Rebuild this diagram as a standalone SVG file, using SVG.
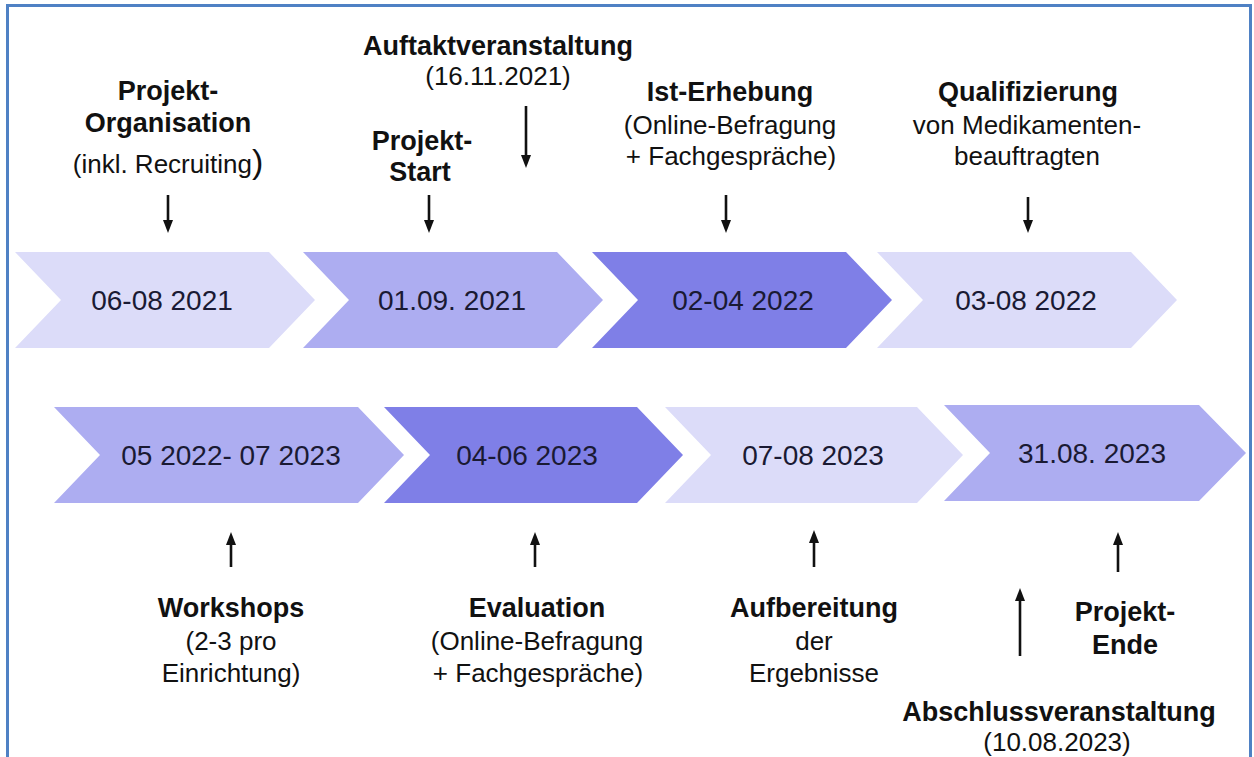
<svg xmlns="http://www.w3.org/2000/svg" width="1254" height="757" viewBox="0 0 1254 757">
<defs>
<style>
text{font-family:"Liberation Sans",Arial,sans-serif;fill:#111;text-anchor:middle}
.b{font-weight:bold;font-size:27px}
.r{font-size:26px}
.d{font-size:28px;fill:#1a1a33}
.l{fill:#dcdcf9}
.m{fill:#adadf1}
.k{fill:#7f7fe7}
.c{stroke:#111;stroke-width:2.6;fill:none;marker-end:url(#ah)}
</style>
<marker id="ah" viewBox="0 0 13 10" markerWidth="13" markerHeight="10" markerUnits="userSpaceOnUse" refX="5" refY="5" orient="auto">
<path d="M0,0 L13,5 L0,10 Z" fill="#111"/>
</marker>
</defs>
<rect x="0" y="0" width="1254" height="757" fill="#fff"/>
<rect x="7.5" y="5.5" width="1243" height="800" fill="none" stroke="#4f81c4" stroke-width="3"/>

<g id="row1">
<g id="n1"><path class="l" d="M15,252 L269,252 L315,300 L269,348 L15,348 L61,300 Z"/><text class="d" x="162" y="310">06-08 2021</text></g>
<g id="n2"><path class="m" d="M303,252 L557,252 L603,300 L557,348 L303,348 L349,300 Z"/><text class="d" x="452" y="310">01.09. 2021</text></g>
<g id="n3"><path class="k" d="M592,252 L846,252 L892,300 L846,348 L592,348 L638,300 Z"/><text class="d" x="743" y="310">02-04 2022</text></g>
<g id="n4"><path class="l" d="M877,252 L1131,252 L1177,300 L1131,348 L877,348 L923,300 Z"/><text class="d" x="1026" y="310">03-08 2022</text></g>
</g>

<g id="row2">
<g id="n5"><path class="m" d="M54,407 L358,407 L404,455 L358,503 L54,503 L100,455 Z"/><text class="d" x="231" y="465">05 2022- 07 2023</text></g>
<g id="n6"><path class="k" d="M384,407 L637,407 L683,455 L637,503 L384,503 L430,455 Z"/><text class="d" x="527" y="465">04-06 2023</text></g>
<g id="n7"><path class="l" d="M665,407 L917,407 L963,455 L917,503 L665,503 L711,455 Z"/><text class="d" x="813" y="465">07-08 2023</text></g>
<g id="n8"><path class="m" d="M944,405 L1199,405 L1246,453 L1199,501 L944,501 L990,453 Z"/><text class="d" x="1092" y="463">31.08. 2023</text></g>
</g>

<g id="labels">
<g id="t1"><text class="b" x="168" y="100">Projekt-</text><text class="b" x="168" y="132">Organisation</text><text class="r" x="168" y="173">(inkl. Recruiting<tspan font-size="34">)</tspan></text></g>
<g id="t2"><text class="b" x="498" y="55">Auftaktveranstaltung</text><text class="r" x="498" y="85">(16.11.2021)</text></g>
<g id="t3"><text class="b" x="422" y="150">Projekt-</text><text class="b" x="420" y="181">Start</text></g>
<g id="t4"><text class="b" x="730" y="101">Ist-Erhebung</text><text class="r" x="730" y="134">(Online-Befragung</text><text class="r" x="731" y="165">+ Fachgespräche)</text></g>
<g id="t5"><text class="b" x="1028" y="101">Qualifizierung</text><text class="r" x="1027" y="134">von Medikamenten-</text><text class="r" x="1027" y="165">beauftragten</text></g>
<g id="t6"><text class="b" x="231" y="617">Workshops</text><text class="r" x="231" y="650">(2-3 pro</text><text class="r" x="231" y="682">Einrichtung)</text></g>
<g id="t7"><text class="b" x="537" y="617">Evaluation</text><text class="r" x="537" y="650">(Online-Befragung</text><text class="r" x="538" y="682">+ Fachgespräche)</text></g>
<g id="t8"><text class="b" x="814" y="617">Aufbereitung</text><text class="r" x="814" y="650">der</text><text class="r" x="814" y="682">Ergebnisse</text></g>
<g id="t9"><text class="b" x="1125" y="621">Projekt-</text><text class="b" x="1125" y="654">Ende</text></g>
<g id="t10"><text class="b" x="1059" y="721">Abschlussveranstaltung</text><text class="r" x="1057" y="751">(10.08.2023)</text></g>
</g>

<g id="connectors">
<path class="c" d="M168,195 L168,225"/>
<path class="c" d="M526,106 L526,160"/>
<path class="c" d="M429,195 L429,225"/>
<path class="c" d="M726,195 L726,225"/>
<path class="c" d="M1028,197 L1028,225"/>
<path class="c" d="M231,567 L231,540"/>
<path class="c" d="M535,567 L535,540"/>
<path class="c" d="M814,567 L814,538"/>
<path class="c" d="M1020,656 L1020,596"/>
<path class="c" d="M1118,572 L1118,540"/>
</g>
</svg>
